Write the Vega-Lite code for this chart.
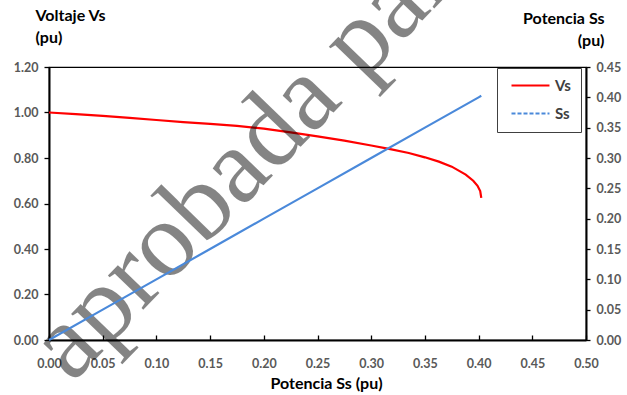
{
  "$schema": "https://vega.github.io/schema/vega-lite/v6.json",
  "width": 537,
  "height": 273,
  "autosize": {"type": "none"},
  "padding": {"left": 49, "top": 67, "right": 41, "bottom": 55},
  "background": "white",
  "config": {
    "view": {"stroke": "#000000", "strokeWidth": 1.2},
    "font": "Lato",
    "axis": {
      "labelFont": "Lato",
      "labelFontWeight": "bold",
      "labelFontSize": 12.5,
      "labelColor": "#595959",
      "titleFont": "Lato",
      "titleFontWeight": "bold",
      "titleFontSize": 16,
      "titleColor": "#000000",
      "domainColor": "#000000",
      "domainWidth": 2,
      "tickColor": "#000000",
      "tickWidth": 1.3,
      "grid": false,
      "labelFlush": false,
      "labelOverlap": false
    }
  },
  "datasets": {
    "curves": [
      {"s": 0, "v": 1.000, "series": "Vs"},
      {"s": 0.025, "v": 0.993, "series": "Vs"},
      {"s": 0.05, "v": 0.985, "series": "Vs"},
      {"s": 0.075, "v": 0.976, "series": "Vs"},
      {"s": 0.1, "v": 0.967, "series": "Vs"},
      {"s": 0.125, "v": 0.958, "series": "Vs"},
      {"s": 0.15, "v": 0.950, "series": "Vs"},
      {"s": 0.175, "v": 0.941, "series": "Vs"},
      {"s": 0.2, "v": 0.929, "series": "Vs"},
      {"s": 0.225, "v": 0.913, "series": "Vs"},
      {"s": 0.25, "v": 0.895, "series": "Vs"},
      {"s": 0.275, "v": 0.876, "series": "Vs"},
      {"s": 0.3, "v": 0.855, "series": "Vs"},
      {"s": 0.3166, "v": 0.840, "series": "Vs"},
      {"s": 0.335, "v": 0.822, "series": "Vs"},
      {"s": 0.35, "v": 0.803, "series": "Vs"},
      {"s": 0.363, "v": 0.784, "series": "Vs"},
      {"s": 0.375, "v": 0.762, "series": "Vs"},
      {"s": 0.388, "v": 0.727, "series": "Vs"},
      {"s": 0.395, "v": 0.700, "series": "Vs"},
      {"s": 0.399, "v": 0.678, "series": "Vs"},
      {"s": 0.4015, "v": 0.655, "series": "Vs"},
      {"s": 0.4025, "v": 0.625, "series": "Vs"},
      {"s": 0, "v": 0, "series": "Ss"},
      {"s": 0.05, "v": 0.05, "series": "Ss"},
      {"s": 0.1, "v": 0.1, "series": "Ss"},
      {"s": 0.15, "v": 0.15, "series": "Ss"},
      {"s": 0.2, "v": 0.2, "series": "Ss"},
      {"s": 0.25, "v": 0.25, "series": "Ss"},
      {"s": 0.3, "v": 0.3, "series": "Ss"},
      {"s": 0.35, "v": 0.35, "series": "Ss"},
      {"s": 0.4, "v": 0.4, "series": "Ss"},
      {"s": 0.4025, "v": 0.4025, "series": "Ss"}
    ],
    "mark": [
      {"s": 0.0211, "v": -0.193, "label": "aprobada para"}
    ]
  },
  "layer": [
    {
      "layer": [
        {
          "data": {"name": "curves"},
          "transform": [{"filter": "datum.series === 'Vs'"}],
          "mark": {"type": "line", "strokeWidth": 2.2},
          "encoding": {
            "x": {
              "field": "s", "type": "quantitative",
              "scale": {"domain": [0, 0.5], "nice": false},
              "axis": {
                "values": [0, 0.05, 0.1, 0.15, 0.2, 0.25, 0.3, 0.35, 0.4, 0.45, 0.5],
                "format": ".2f",
                "tickSize": -5,
                "labelPadding": 22,
                "title": "Potencia Ss (pu)",
                "titleX": 277,
                "titleY": 43,
                "titleBaseline": "middle"
              }
            },
            "y": {
              "field": "v", "type": "quantitative",
              "scale": {"domain": [0, 1.2], "nice": false},
              "axis": {
                "orient": "left",
                "values": [0, 0.2, 0.4, 0.6, 0.8, 1.0, 1.2],
                "format": ".2f",
                "tickSize": 5,
                "labelPadding": 6,
                "title": ["Voltaje Vs", "(pu)"],
                "titleAngle": 0,
                "titleAlign": "left",
                "titleBaseline": "middle",
                "titleX": -14,
                "titleY": -52,
                "titleLineHeight": 22
              }
            },
            "color": {
              "field": "series", "type": "nominal",
              "scale": {"domain": ["Vs", "Ss"], "range": ["#FF0000", "#4A89DA"]},
              "legend": {
                "orient": "none",
                "legendX": 448,
                "legendY": 1,
                "title": null,
                "direction": "vertical",
                "strokeColor": "#404040",
                "fillColor": "white",
                "padding": 10,
                "symbolType": "M-0.5,0H5.83",
                "symbolSize": 144,
                "symbolStrokeWidth": 2.2,
                "labelFont": "Lato",
                "labelFontSize": 15,
                "labelFontWeight": "bold",
                "labelColor": "#404040",
                "rowPadding": 12,
                "labelOffset": 33,
                "encode": {
                  "symbols": {
                    "update": {
                      "strokeDash": {"signal": "datum.value === 'Ss' ? [4, 2] : [1, 0]"}
                    }
                  }
                }
              }
            }
          }
        },
        {
          "data": {"name": "mark"},
          "mark": {
            "type": "text",
            "font": "Liberation Serif",
            "fontSize": 107,
            "angle": -46,
            "align": "left",
            "baseline": "alphabetic",
            "fill": "#000000",
            "opacity": 0.48
          },
          "encoding": {
            "x": {"field": "s", "type": "quantitative", "scale": {"domain": [0, 0.5], "nice": false}},
            "y": {"field": "v", "type": "quantitative", "scale": {"domain": [0, 1.2], "nice": false}},
            "text": {"field": "label"}
          }
        }
      ]
    },
    {
      "data": {"name": "curves"},
      "transform": [{"filter": "datum.series === 'Ss'"}],
      "mark": {"type": "line", "strokeWidth": 2.2},
      "encoding": {
        "x": {"field": "s", "type": "quantitative", "scale": {"domain": [0, 0.5], "nice": false}},
        "y": {
          "field": "v", "type": "quantitative",
          "scale": {"domain": [0, 0.45], "nice": false},
          "axis": {
            "orient": "right",
            "values": [0, 0.05, 0.1, 0.15, 0.2, 0.25, 0.3, 0.35, 0.4, 0.45],
            "format": ".2f",
            "tickSize": 4,
            "labelPadding": 6,
            "title": ["Potencia Ss", "(pu)"],
            "titleAngle": 0,
            "titleAlign": "right",
            "titleBaseline": "middle",
            "titleX": 18,
            "titleY": -49,
            "titleLineHeight": 22
          }
        },
        "color": {"field": "series", "type": "nominal", "scale": {"domain": ["Vs", "Ss"], "range": ["#FF0000", "#4A89DA"]}}
      }
    }
  ],
  "resolve": {"scale": {"y": "independent"}}
}
